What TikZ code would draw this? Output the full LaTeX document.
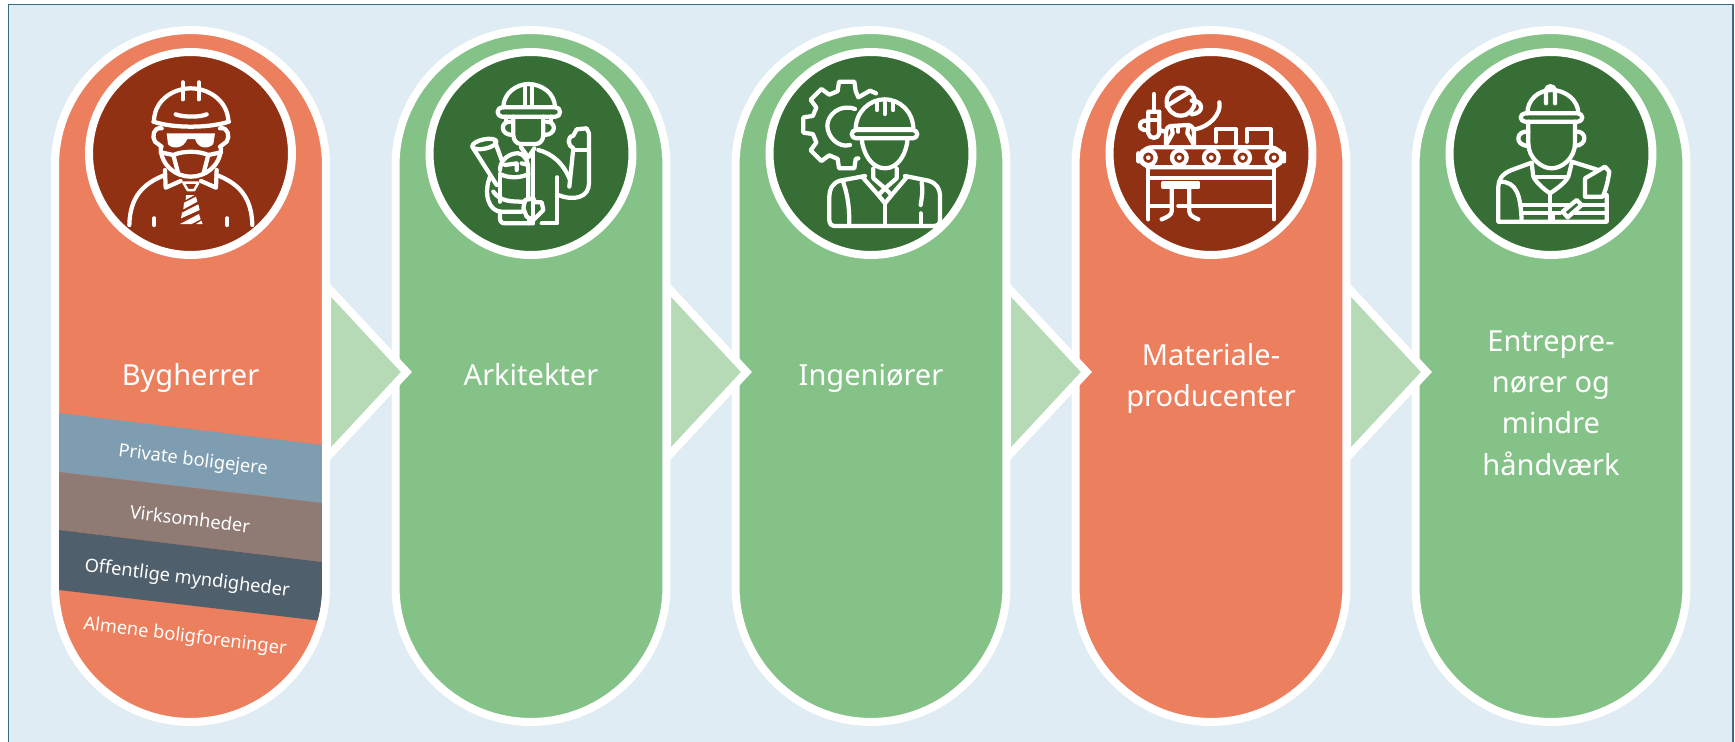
\documentclass[tikz,border=0pt]{standalone}
\usepackage{fontspec}
\usepackage{xcolor}
\usepackage{tikz}
\setmainfont{Noto Sans}
\definecolor{myback}{HTML}{DFECF4}
\definecolor{myframe}{HTML}{3A6A85}
\definecolor{myorange}{HTML}{EB7F5E}
\definecolor{myrust}{HTML}{8F3112}
\definecolor{mygreen}{HTML}{85C287}
\definecolor{mydarkgreen}{HTML}{376E36}
\definecolor{mypale}{HTML}{B6D9B6}
\definecolor{myblue}{HTML}{7F9DB1}
\definecolor{mybrown}{HTML}{8F7A74}
\definecolor{myslate}{HTML}{4F5F6B}
\tikzset{
    pill/.style={rectangle, draw=white, line width=0.16cm, rounded corners=2.71cm, minimum width=5.42cm, minimum height=13.84cm, outer sep=0pt, inner sep=0pt},
    badge/.style={circle, draw=white, line width=0.16cm, minimum size=4.06cm, outer sep=0pt, inner sep=0pt},
    title/.style={text=white, align=center, inner sep=0pt, font=\fontsize{16.5}{23.6}\selectfont},
    sublabel/.style={text=white, rotate=-7, inner sep=0pt, font=\fontsize{10.4}{14}\selectfont},
    icon/.style={draw=white, line width=0.085cm, line cap=round, line join=round},
    iconfill/.style={fill=white, draw=none},
}
\begin{document}
\begin{tikzpicture}[x=0.02cm, y=-0.02cm]
    % basics
    \useasboundingbox (0,0) rectangle (1735,741);
    \draw[myframe, fill=myback, line width=0.03cm] (8.5,4.5) rectangle (1733,745);

    % pills and badges
    \node[pill, fill=myorange] (pillA) at (190.5,376) {};
    \node[pill, fill=mygreen] (pillB) at (531,376) {};
    \node[pill, fill=mygreen] (pillC) at (871,376) {};
    \node[pill, fill=myorange] (pillD) at (1211,376) {};
    \node[pill, fill=mygreen] (pillE) at (1551,376) {};
    \node[badge, fill=myrust] (badgeA) at (190.5,153.5) {};
    \node[badge, fill=mydarkgreen] (badgeB) at (531,153.5) {};
    \node[badge, fill=mydarkgreen] (badgeC) at (871,153.5) {};
    \node[badge, fill=myrust] (badgeD) at (1211,153.5) {};
    \node[badge, fill=mydarkgreen] (badgeE) at (1551,153.5) {};

    % arrows between the pills
    \foreach \dx in {0,340,680,1020} {
        \draw[draw=white, fill=mypale, line width=0.16cm, miter limit=10] ({327+\dx},286.5) -- ({406.5+\dx},372) -- ({327+\dx},457.5) -- cycle;
    }

    % bands
    \begin{scope}
        \clip[rounded corners=2.63cm] (59,34) rectangle (322,718);
        \fill[myblue] (59,413) -- (322,445) -- (322,503) -- (59,472) -- cycle;
        \fill[mybrown] (59,472) -- (322,503) -- (322,562) -- (59,530) -- cycle;
        \fill[myslate] (59,530) -- (322,562) -- (322,621) -- (59,590) -- cycle;
    \end{scope}

    % texts
    \node[title, anchor=base] (titleA) at (190.5,385) {Bygherrer};
    \node[title, anchor=base] (titleB) at (531,385) {Arkitekter};
    \node[title, anchor=base] (titleC) at (871,385) {Ingeniører};
    \node[title] (titleD) at (1211,378.5) {Materiale-\\producenter};
    \node[title] (titleE) at (1551,403) {Entrepre-\\nører og\\mindre\\håndværk};
    \node[sublabel] (subA) at (193,461) {Private boligejere};
    \node[sublabel] (subB) at (190,519) {Virksomheder};
    \node[sublabel] (subC) at (187,579) {Offentlige myndigheder};
    \node[sublabel] (subD) at (185,637) {Almene boligforeninger};

    % client icon
    \begin{scope}[shift={(40,20)}, scale=1/3]
        \draw[icon] (342,300) .. controls (345,240) and (400,205) .. (452,205) .. controls (505,205) and (560,240) .. (565,300);
        \draw[icon] (340,305) .. controls (400,325) and (505,325) .. (567,305);
        \draw[icon] (429,187) -- (429,238);
        \draw[icon] (477,187) -- (477,238);
        \draw[icon] (407,283) .. controls (430,292) and (480,292) .. (500,283);
        \draw[icon] (365,325) .. controls (340,320) and (335,350) .. (345,365) -- (365,380);
        \draw[icon] (540,325) .. controls (565,320) and (570,350) .. (560,365) -- (540,380);
        \fill[iconfill] (380,340) -- (525,340) -- (520,372) .. controls (505,388) and (475,388) .. (465,357) -- (442,357) .. controls (430,388) and (395,388) .. (384,372) -- cycle;
        \draw[icon] (362,385) .. controls (365,440) and (410,470) .. (452,470) .. controls (495,470) and (540,440) .. (543,385);
        \draw[icon] (362,397) -- (400,405) .. controls (430,392) and (475,392) .. (505,405) -- (543,397);
        \draw[icon] (400,405) -- (415,462);
        \draw[icon] (505,405) -- (490,462);
        \draw[icon] (375,450) -- (377,503) -- (422,483);
        \draw[icon] (530,450) -- (528,503) -- (483,483);
        \draw[icon] (375,465) .. controls (310,490) and (270,530) .. (268,615);
        \draw[icon] (530,465) .. controls (595,490) and (635,530) .. (637,615);
        \draw[icon] (343,595) -- (343,615);
        \draw[icon] (562,595) -- (562,615);
        \draw[icon, line width=0.05cm] (430,488) -- (475,488) -- (463,510) -- (443,510) -- cycle;
        \fill[iconfill] (438,525) -- (464,525) -- (437,540) -- cycle;
        \fill[iconfill] (432,548) -- (468,530) -- (472,545) -- (430,568) -- cycle;
        \fill[iconfill] (426,578) -- (475,553) -- (479,570) -- (423,595) -- cycle;
        \fill[iconfill] (420,612) -- (477,582) -- (482,598) -- (455,612) -- cycle;
        \fill[iconfill] (468,612) -- (484,602) -- (488,612) -- cycle;
    \end{scope}

    % architect icon
    \begin{scope}[shift={(385,70)}, scale=1/3]
        \draw[icon] (355,112) .. controls (355,70) and (395,42) .. (430,42) .. controls (470,42) and (510,70) .. (510,112);
        \draw[icon, rounded corners=2.5pt] (338,112) rectangle (525,140);
        \draw[icon] (420,45) -- (420,110);
        \draw[icon] (440,45) -- (440,110);
        \draw[icon] (385,140) -- (385,195) .. controls (385,210) and (395,222) .. (408,222) -- (452,222) .. controls (465,222) and (475,210) .. (475,195) -- (475,140);
        \draw[icon] (383,195) .. controls (345,195) and (345,155) .. (375,155);
        \draw[icon] (477,195) .. controls (515,195) and (515,155) .. (485,155);
        \draw[icon] (362,140) -- (362,155);
        \draw[icon] (498,140) -- (498,155);
        \draw[icon] (408,232) -- (430,262) -- (448,235);
        \draw[icon] (445,245) -- (445,460);
        \draw[icon] (460,240) .. controls (500,250) and (535,280) .. (553,325);
        \draw[icon] (553,350) -- (565,235) .. controls (548,228) and (545,200) .. (565,197) -- (575,178) -- (605,175) -- (612,190) -- (612,340) .. controls (612,380) and (570,395) .. (520,375);
        \draw[icon] (565,240) -- (612,240);
        \draw[icon] (517,322) -- (517,460) -- (470,460);
        \draw[icon] (345,430) -- (345,445) .. controls (345,455) and (350,460) .. (360,460) -- (440,460);
        \draw[icon] (432,460) -- (432,445);
        \draw[icon, rotate around={12:(298,222)}] (298,222) ellipse (37 and 14);
        \draw[icon] (263,232) -- (335,345);
        \draw[icon] (330,215) -- (350,270);
        \draw[icon] (345,315) -- (345,395);
        \draw[icon] (345,300) .. controls (345,265) and (380,248) .. (400,250) .. controls (425,255) and (430,280) .. (430,300) -- (430,385);
        \draw[icon] (345,312) .. controls (370,325) and (405,325) .. (430,312);
        \draw[icon] (360,285) -- (395,280) -- (395,300);
        \draw[icon] (410,280) -- (430,285);
        \draw[icon] (315,320) .. controls (295,370) and (310,425) .. (350,425) -- (410,425);
        \draw[icon] (325,365) .. controls (345,395) and (380,395) .. (420,395);
        \draw[icon] (415,415) -- (420,390) -- (445,385) -- (450,397) -- (470,397) -- (475,420) -- (445,450) -- (425,440) -- cycle;
    \end{scope}

    % engineer icon
    \begin{scope}[shift={(790,70)}, scale=1/3]
        \draw[icon] (258,70) -- (240,62) -- (205,82)
            \foreach \a in {90,135,180,225,270} {
                -- ({170+105*cos(\a-15)},{165-105*sin(\a-15)}) -- ({170+132*cos(\a-10)},{165-132*sin(\a-10)}) -- ({170+132*cos(\a+10)},{165-132*sin(\a+10)}) -- ({170+105*cos(\a+15)},{165-105*sin(\a+15)})
            } -- (205,265);
        \draw[icon] (195,117) .. controls (150,100) and (112,135) .. (112,167) .. controls (112,200) and (145,235) .. (180,225);
        \draw[icon, fill=mydarkgreen] (197,178) .. controls (197,125) and (240,88) .. (283,88) .. controls (330,88) and (370,125) .. (370,178) -- cycle;
        \draw[icon, rounded corners=2.5pt, fill=mydarkgreen] (185,180) rectangle (382,205);
        \draw[icon] (262,98) -- (262,120);
        \draw[icon] (285,98) -- (285,132);
        \draw[icon] (310,98) -- (310,120);
        \draw[icon] (215,205) .. controls (218,250) and (245,295) .. (285,295) .. controls (325,295) and (350,250) .. (353,205);
        \draw[icon] (250,295) -- (250,325) -- (285,355) -- (320,325) -- (320,295);
        \draw[icon] (218,322) -- (265,375) -- (285,400) -- (305,375) -- (350,322);
        \draw[icon] (265,375) -- (285,355) -- (305,375);
        \draw[icon] (285,400) -- (285,462);
        \draw[icon] (225,318) -- (150,332) .. controls (125,340) and (118,360) .. (118,380) -- (118,450) .. controls (118,462) and (125,468) .. (135,468) -- (430,468) .. controls (445,468) and (450,460) .. (450,450) -- (450,380) .. controls (450,355) and (440,340) .. (415,332) -- (345,318);
        \draw[icon] (160,338) .. controls (175,380) and (178,420) .. (178,462);
        \draw[icon] (395,338) .. controls (400,360) and (395,385) .. (392,405);
        \draw[icon] (392,430) -- (392,462);
    \end{scope}

    % factory icon
    \begin{scope}[shift={(790,70)}, scale=1/3]
        \draw[icon] (1172,95) circle (42);
        \draw[icon] (1130,108) -- (1200,65);
        \draw[icon] (1205,92) .. controls (1240,90) and (1245,130) .. (1205,133);
        \draw[icon] (1215,178) .. controls (1260,170) and (1295,130) .. (1288,97);
        \draw[icon] (1128,230) -- (1128,190) .. controls (1128,175) and (1135,168) .. (1145,168) -- (1195,165) .. controls (1205,167) and (1212,175) .. (1212,190) -- (1212,230);
        \draw[icon] (1145,168) -- (1148,190) -- (1128,225);
        \draw[icon] (1195,168) -- (1192,190) -- (1212,225);
        \draw[icon] (1165,168) -- (1165,185);
        \draw[icon] (1092,72) -- (1092,125);
        \draw[icon] (1108,125) -- (1075,125) -- (1075,190) .. controls (1078,208) and (1105,208) .. (1108,190) -- (1108,125);
        \draw[icon] (1075,150) -- (1108,150);
        \draw[icon] (1075,152) -- (1062,152) .. controls (1045,155) and (1045,178) .. (1062,180) -- (1075,180);
        \draw[icon] (1108,180) -- (1125,185);
        \draw[icon] (1278,215) -- (1278,178) -- (1338,178) -- (1338,232);
        \draw[icon] (1370,215) -- (1370,178) -- (1442,178) -- (1442,232);
        \draw[icon, rounded corners=8pt] (1045,232) rectangle (1482,292);
        \foreach \rx in {1075,1168,1264,1358,1452} {
            \draw[icon, fill=myrust] (\rx,263) circle (22);
            \fill[iconfill] (\rx,263) circle (7);
        }
        \draw[icon] (1075,325) -- (1452,325);
        \draw[icon] (1075,295) -- (1075,448);
        \draw[icon] (1452,295) -- (1452,448);
        \draw[icon] (1075,408) -- (1140,408);
        \draw[icon] (1165,408) -- (1452,408);
        \draw[icon] (1120,338) rectangle (1225,352);
        \draw[icon] (1145,352) -- (1145,425) .. controls (1145,435) and (1130,442) .. (1115,448);
        \draw[icon] (1198,352) -- (1198,425) .. controls (1198,435) and (1210,442) .. (1225,448);
    \end{scope}

    % builder icon
    \begin{scope}[shift={(1470,70)}, scale=1/3]
        \draw[icon] (172,130) .. controls (172,90) and (205,60) .. (245,60) .. controls (285,60) and (325,90) .. (325,130);
        \draw[icon, rounded corners=2.5pt] (152,130) rectangle (337,155);
        \draw[icon] (228,100) -- (228,60) .. controls (230,45) and (252,45) .. (255,60) -- (255,100);
        \draw[icon] (175,155) -- (175,220) .. controls (175,265) and (215,295) .. (245,295) .. controls (275,295) and (315,265) .. (315,220) -- (315,155);
        \draw[icon] (175,185) .. controls (140,180) and (130,225) .. (175,228);
        \draw[icon] (315,185) .. controls (350,180) and (355,225) .. (315,228);
        \draw[icon] (185,280) -- (190,320) .. controls (200,340) and (225,360) .. (240,370) .. controls (255,360) and (285,340) .. (295,320) -- (305,280);
        \draw[icon] (198,322) -- (290,322);
        \draw[icon] (240,370) -- (240,455);
        \draw[icon] (185,278) -- (125,300) .. controls (95,312) and (85,330) .. (85,350) -- (85,455) -- (410,455) -- (410,375);
        \draw[icon] (305,275) -- (385,300);
        \draw[icon] (90,335) .. controls (140,335) and (152,375) .. (155,455);
        \draw[icon] (155,405) -- (295,405);
        \draw[icon] (155,430) -- (270,430);
        \draw[icon] (340,405) -- (410,405);
        \draw[icon] (310,430) -- (410,430);
        \draw[icon] (345,325) -- (405,290) -- (418,305) .. controls (412,345) and (405,365) .. (398,380) -- (345,380) -- cycle;
        \draw[icon] (278,425) -- (320,390) -- (335,405) -- (293,442) -- cycle;
        \draw[icon] (250,430) -- (250,452);
    \end{scope}
\end{tikzpicture}
\end{document}
